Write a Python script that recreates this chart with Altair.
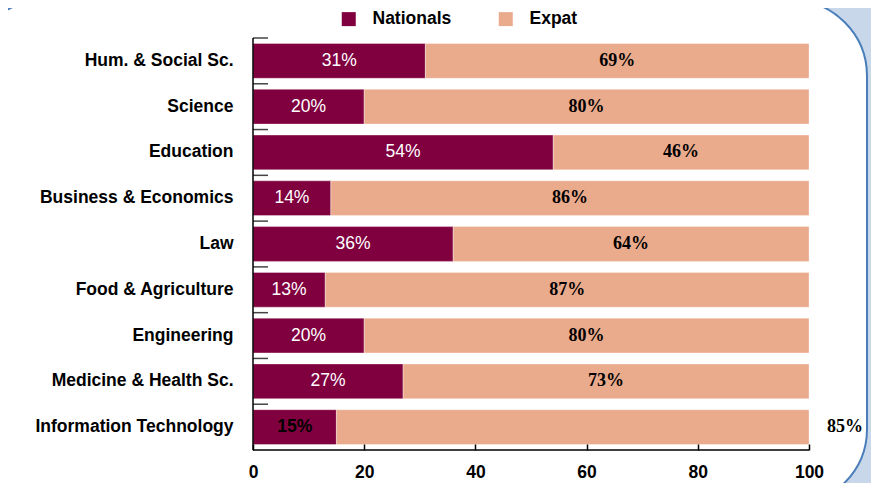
import altair as alt
import pandas as pd

categories = ["Hum. & Social Sc.", "Science", "Education", "Business & Economics", "Law",
              "Food & Agriculture", "Engineering", "Medicine & Health Sc.", "Information Technology"]
nationals = [31, 20, 54, 14, 36, 13, 20, 27, 15]
expat = [69, 80, 46, 86, 64, 87, 80, 73, 85]
groups = ["Nationals", "Expat"]
x_ticks = [0, 20, 40, 60, 80, 100]

long_rows = []
for c, n, e in zip(categories, nationals, expat):
    long_rows.append({"cat": c, "group": "Nationals", "value": n, "ord": 0})
    long_rows.append({"cat": c, "group": "Expat", "value": e, "ord": 1})
long_df = pd.DataFrame(long_rows)

lab_df = pd.DataFrame({
    "cat": categories,
    "nat": nationals,
    "exp": expat,
})
lab_df["nat_mid"] = lab_df["nat"] / 2
lab_df["exp_mid"] = lab_df["nat"] + lab_df["exp"] / 2
lab_df["total"] = lab_df["nat"] + lab_df["exp"]
lab_df["nat_lbl"] = lab_df["nat"].astype(str) + "%"
lab_df["exp_lbl"] = lab_df["exp"].astype(str) + "%"

W, H = 556, 412
PAD_L, PAD_T = 245, 30
STEP = H / len(categories)
SANS = "Liberation Sans"
SERIF = "Liberation Serif"

y_enc = alt.Y("cat:N", sort=categories,
              scale=alt.Scale(paddingInner=0.24, paddingOuter=0.12),
              axis=alt.Axis(title=None, orient="left", ticks=False, tickSize=0,
                            domain=False, labelPadding=20, labelFont=SANS, labelFontSize=17.5,
                            labelFontWeight="bold", labelColor="black",
                            grid=False, labelLimit=400, zindex=1))
x_scale = alt.Scale(domain=[0, 100], nice=False)
x_axis = alt.Axis(title=None, values=x_ticks, offset=-6, tickSize=6, domain=False, labelPadding=13,
                  labelFont=SANS, labelFontSize=17.5, labelFontWeight="bold", labelColor="black",
                  tickColor="black", tickWidth=1.5, grid=False, labelFlush=False, format="d", zindex=1)

frame = alt.Chart(pd.DataFrame({"a": [0]})).mark_rect(
    fill="white", stroke="#4A7EBB", strokeWidth=2, cornerRadius=76
).encode(x=alt.value(-284), x2=alt.value(614), y=alt.value(-38), y2=alt.value(467))

bars = alt.Chart(long_df).mark_bar(strokeWidth=1, strokeOpacity=0.35, stroke="white").encode(
    x=alt.X("value:Q", stack="zero", scale=x_scale, axis=x_axis),
    y=y_enc,
    color=alt.Color("group:N", scale=alt.Scale(domain=groups, range=["#80003F", "#EAAA8C"]),
                    legend=alt.Legend(title=None, orient="none", legendX=87, legendY=-28,
                                      direction="horizontal", symbolType="square", symbolSize=196,
                                      symbolStrokeWidth=0, labelFont=SANS, labelFontSize=17.5,
                                      labelFontWeight="bold", labelColor="black",
                                      columnPadding=45, labelOffset=15, padding=0)),
    order=alt.Order("ord:Q"),
)

y_ticks = alt.Chart(lab_df).mark_rule(color="#444444", strokeWidth=1.5, yOffset=-STEP / 2).encode(
    y=y_enc, x=alt.datum(0, scale=x_scale), x2=alt.value(15))

base = alt.Chart(lab_df)
nat_text = base.transform_filter(alt.datum.cat != "Information Technology").mark_text(
    font=SANS, fontSize=17.5, color="white", baseline="middle", align="center"
).encode(x=alt.X("nat_mid:Q", scale=x_scale, axis=x_axis), y=y_enc, text="nat_lbl:N")

nat_text_it = base.transform_filter(alt.datum.cat == "Information Technology").mark_text(
    font=SANS, fontSize=17.5, fontWeight="bold", color="black", baseline="middle", align="center"
).encode(x=alt.X("nat_mid:Q", scale=x_scale, axis=x_axis), y=y_enc, text="nat_lbl:N")

exp_text = base.transform_filter(alt.datum.cat != "Information Technology").mark_text(
    font=SERIF, fontSize=18, fontWeight="bold", color="black", baseline="middle", align="center"
).encode(x=alt.X("exp_mid:Q", scale=x_scale, axis=x_axis), y=y_enc, text="exp_lbl:N")

exp_text_it = base.transform_filter(alt.datum.cat == "Information Technology").mark_text(
    font=SERIF, fontSize=18, fontWeight="bold", color="black", baseline="middle", align="left", dx=18
).encode(x=alt.X("total:Q", scale=x_scale, axis=x_axis), y=y_enc, text="exp_lbl:N")

left_line = alt.Chart(pd.DataFrame({"a": [0]})).mark_rule(color="black", strokeWidth=1.5).encode(
    x=alt.datum(0, scale=x_scale), y=alt.value(0), y2=alt.value(H))
bottom_line = alt.Chart(pd.DataFrame({"a": [0]})).mark_rule(color="black", strokeWidth=1.5).encode(
    x=alt.datum(0), x2=alt.datum(100), y=alt.value(H))

chart = alt.layer(frame, bars, y_ticks, nat_text, nat_text_it, exp_text, exp_text_it,
                  left_line, bottom_line).properties(
    width=W, height=H,
    autosize=alt.AutoSizeParams(type="none"),
    padding={"left": PAD_L, "top": PAD_T, "right": 62, "bottom": 475 - PAD_T - H},
    background="#C8D8EA",
).configure_view(stroke=None)

chart.save("out.html", embed_options={"renderer": "svg", "actions": False})
